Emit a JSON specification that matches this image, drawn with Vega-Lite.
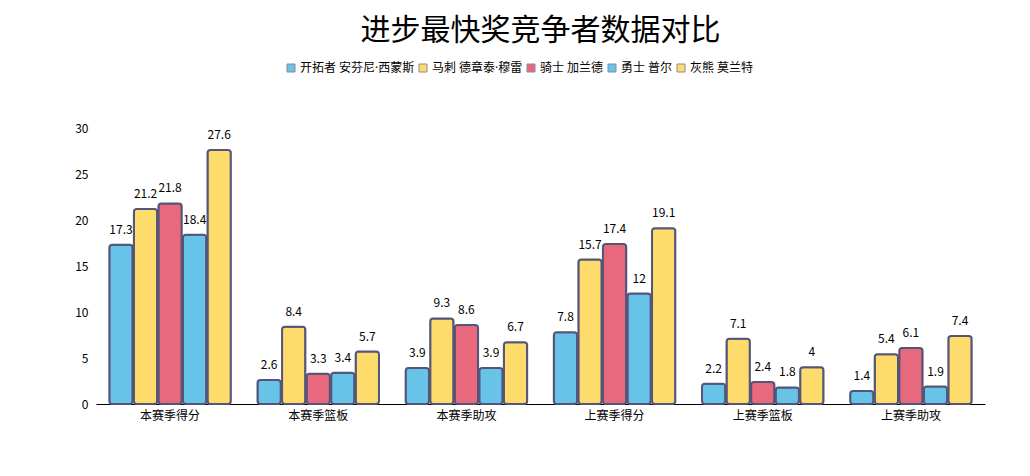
{
  "$schema": "https://vega.github.io/schema/vega-lite/v6.json",
  "width": 889,
  "height": 276,
  "autosize": {"type": "none"},
  "padding": {"left": 96, "top": 128, "right": 45, "bottom": 72},
  "background": "white",
  "config": {"view": {"stroke": null}},
  "title": {
    "text": "进步最快奖竞争者数据对比",
    "font": "Noto Sans CJK SC",
    "fontSize": 30,
    "fontWeight": "normal",
    "color": "#000000",
    "anchor": "middle",
    "offset": 16
  },
  "data": {
    "values": [
      {"cat": "本赛季得分", "p": "开拓者 安芬尼·西蒙斯", "v": 17.3},
      {"cat": "本赛季得分", "p": "马刺 德章泰·穆雷", "v": 21.2},
      {"cat": "本赛季得分", "p": "骑士 加兰德", "v": 21.8},
      {"cat": "本赛季得分", "p": "勇士 普尔", "v": 18.4},
      {"cat": "本赛季得分", "p": "灰熊 莫兰特", "v": 27.6},
      {"cat": "本赛季篮板", "p": "开拓者 安芬尼·西蒙斯", "v": 2.6},
      {"cat": "本赛季篮板", "p": "马刺 德章泰·穆雷", "v": 8.4},
      {"cat": "本赛季篮板", "p": "骑士 加兰德", "v": 3.3},
      {"cat": "本赛季篮板", "p": "勇士 普尔", "v": 3.4},
      {"cat": "本赛季篮板", "p": "灰熊 莫兰特", "v": 5.7},
      {"cat": "本赛季助攻", "p": "开拓者 安芬尼·西蒙斯", "v": 3.9},
      {"cat": "本赛季助攻", "p": "马刺 德章泰·穆雷", "v": 9.3},
      {"cat": "本赛季助攻", "p": "骑士 加兰德", "v": 8.6},
      {"cat": "本赛季助攻", "p": "勇士 普尔", "v": 3.9},
      {"cat": "本赛季助攻", "p": "灰熊 莫兰特", "v": 6.7},
      {"cat": "上赛季得分", "p": "开拓者 安芬尼·西蒙斯", "v": 7.8},
      {"cat": "上赛季得分", "p": "马刺 德章泰·穆雷", "v": 15.7},
      {"cat": "上赛季得分", "p": "骑士 加兰德", "v": 17.4},
      {"cat": "上赛季得分", "p": "勇士 普尔", "v": 12},
      {"cat": "上赛季得分", "p": "灰熊 莫兰特", "v": 19.1},
      {"cat": "上赛季篮板", "p": "开拓者 安芬尼·西蒙斯", "v": 2.2},
      {"cat": "上赛季篮板", "p": "马刺 德章泰·穆雷", "v": 7.1},
      {"cat": "上赛季篮板", "p": "骑士 加兰德", "v": 2.4},
      {"cat": "上赛季篮板", "p": "勇士 普尔", "v": 1.8},
      {"cat": "上赛季篮板", "p": "灰熊 莫兰特", "v": 4},
      {"cat": "上赛季助攻", "p": "开拓者 安芬尼·西蒙斯", "v": 1.4},
      {"cat": "上赛季助攻", "p": "马刺 德章泰·穆雷", "v": 5.4},
      {"cat": "上赛季助攻", "p": "骑士 加兰德", "v": 6.1},
      {"cat": "上赛季助攻", "p": "勇士 普尔", "v": 1.9},
      {"cat": "上赛季助攻", "p": "灰熊 莫兰特", "v": 7.4}
    ]
  },
  "encoding": {
    "x": {
      "field": "cat", "type": "nominal", "sort": null,
      "scale": {"paddingInner": 0.18, "paddingOuter": 0.09},
      "axis": {"title": null, "labelAngle": 0, "ticks": false, "domainColor": "#000000", "domainWidth": 1, "labelColor": "#000000", "labelFontSize": 12, "labelFont": "Noto Sans CJK SC", "labelPadding": 6}
    },
    "xOffset": {
      "field": "p", "type": "nominal", "sort": null,
      "scale": {"paddingInner": 0.05, "paddingOuter": 0}
    },
    "y": {
      "field": "v", "type": "quantitative",
      "scale": {"domain": [0, 30], "nice": false},
      "axis": {"title": null, "values": [0, 5, 10, 15, 20, 25, 30], "grid": false, "ticks": false, "domain": false, "labelColor": "#000000", "labelFontSize": 12, "labelFont": "Noto Sans CJK SC", "labelPadding": 8}
    }
  },
  "layer": [
    {
      "mark": {"type": "bar", "stroke": "#55557a", "strokeWidth": 2, "cornerRadius": 3},
      "encoding": {
        "color": {
          "field": "p", "type": "nominal", "sort": null,
          "scale": {
            "domain": ["开拓者 安芬尼·西蒙斯", "马刺 德章泰·穆雷", "骑士 加兰德", "勇士 普尔", "灰熊 莫兰特"],
            "range": ["#67c3e8", "#fddc6b", "#e8697d", "#67c3e8", "#fddc6b"]
          },
          "legend": {
            "orient": "none", "legendX": 189, "legendY": -66, "title": null, "direction": "horizontal",
            "symbolType": "square", "symbolSize": 64, "symbolStrokeColor": "#8a8aa0", "symbolStrokeWidth": 1,
            "labelFontSize": 12, "labelFont": "Open Sans, Noto Sans CJK SC", "labelColor": "#000000",
            "columnPadding": 2, "symbolOffset": 0, "labelOffset": 3
          }
        }
      }
    },
    {
      "mark": {"type": "text", "baseline": "bottom", "dy": -8, "fontSize": 12, "font": "Noto Sans CJK SC", "color": "#000000"},
      "encoding": {"text": {"field": "v", "type": "quantitative"}}
    }
  ]
}
